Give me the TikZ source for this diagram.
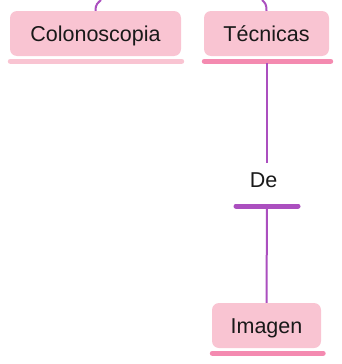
\documentclass[tikz,border=0pt]{standalone}
\usepackage{fontspec}
\setmainfont{Liberation Sans}
\usetikzlibrary{calc}

\definecolor{boxpink}{HTML}{F9C4D2}
\definecolor{barpink}{HTML}{F48AB0}
\definecolor{softbar}{HTML}{F9C4D2}
\definecolor{linkpurple}{HTML}{AB4FBF}

\begin{document}
\begin{tikzpicture}[x=1pt,y=-1pt]
    \tikzstyle{topic}=[fill=boxpink, rounded corners=7pt, minimum height=45pt, inner sep=0pt, text height=17pt, text depth=2pt, font=\fontsize{21.5}{24}\selectfont, text=black!90]
    \tikzstyle{label}=[minimum height=34pt, inner sep=0pt, text height=17pt, text depth=2pt, font=\fontsize{21.5}{24}\selectfont, text=black!90]
    \tikzstyle{link}=[draw=linkpurple, line width=2pt]
    \tikzstyle{bar}=[line width=5pt, line cap=round]

    \useasboundingbox (0,0) rectangle (342,364);

    \node[topic, minimum width=171pt] (colon) at (95.5,33.5) {Colonoscopia};
    \node[topic, minimum width=125pt] (tec) at (266.5,33.5) {Técnicas};
    \node[label] (de) at (263.5,180) {De};
    \node[topic, minimum width=109pt] (img) at (266.5,325.5) {Imagen};

    \coordinate (colonin) at (101,0);
    \coordinate (tecin) at (262,0);
    \coordinate (debar) at (267,206);

    % underlines
    \draw[bar, softbar] ($(colon.south west)+(0.5,5)$) -- ($(colon.south east)+(0.5,5)$);
    \draw[bar, barpink] ($(tec.south west)+(0.5,5)$) -- ($(tec.south east)+(1.5,5)$);
    \draw[bar, barpink] ($(img.south west)+(0.5,5)$) -- ($(img.south east)+(2,5)$);
    \draw[bar, linkpurple] ($(debar)+(-31,0)$) -- ($(debar)+(31,0)$);

    % links
    \draw[link] (colon.north) .. controls +(0,-7) and +(-3,3) .. (colonin);
    \draw[link] (tec.north) .. controls +(0,-7) and +(3,3) .. (tecin);
    \draw[link] ($(tec.south)+(0,7)$) -- (tec.south |- de.north);
    \draw[link] (debar) -- (img.north);
\end{tikzpicture}
\end{document}
